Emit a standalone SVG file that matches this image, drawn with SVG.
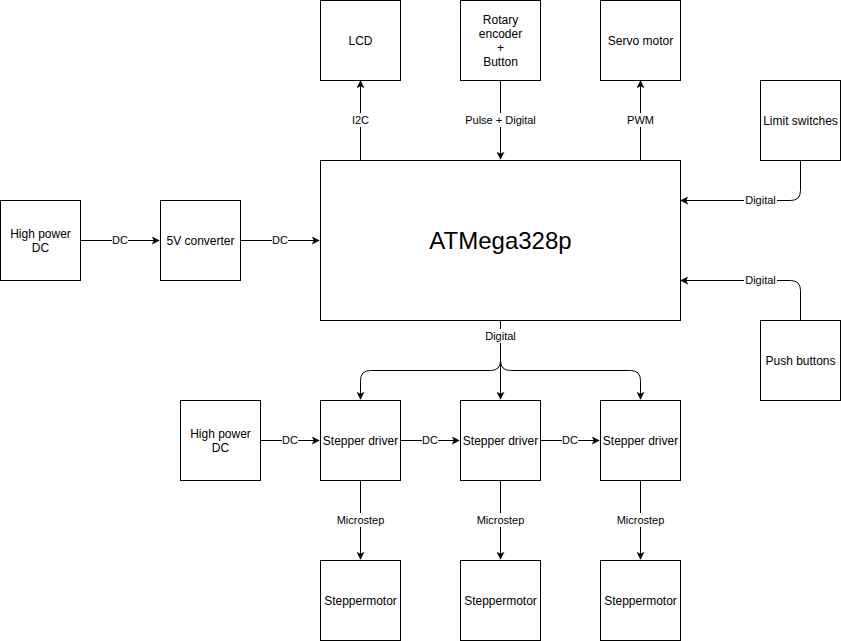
<svg xmlns="http://www.w3.org/2000/svg" width="841" height="641" viewBox="0 0 841 641">
<style>
.box{fill:#fff;stroke:#000;stroke-width:1}
.t{font-family:"Liberation Sans",Arial,sans-serif;font-size:12px;fill:#000;text-anchor:middle;dominant-baseline:central}
.big{font-size:24px}
.lbl{font-family:"Liberation Sans",Arial,sans-serif;font-size:11px;fill:#000;text-anchor:middle;dominant-baseline:central}
.lb{fill:#fff}
.e{fill:none;stroke:#000;stroke-width:1}
</style>
<defs>
<marker id="a" viewBox="0 0 10 10" refX="9" refY="5" markerWidth="8" markerHeight="8" markerUnits="userSpaceOnUse" orient="auto">
<path d="M0,0 L10,5 L0,10 L2.5,5 z" fill="#000"/>
</marker>
</defs>
<rect width="841" height="641" fill="#fff"/>
<g id="connectors">
<path class="e" d="M360.5,160 L360.5,81" marker-end="url(#a)"/>
<path class="e" d="M500.5,80 L500.5,159" marker-end="url(#a)"/>
<path class="e" d="M640.5,160 L640.5,81" marker-end="url(#a)"/>
<path class="e" d="M800.5,160 L800.5,190.5 Q800.5,200.5 790.5,200.5 L681,200.5" marker-end="url(#a)"/>
<path class="e" d="M800.5,320 L800.5,290.5 Q800.5,280.5 790.5,280.5 L681,280.5" marker-end="url(#a)"/>
<path class="e" d="M80,240.5 L159,240.5" marker-end="url(#a)"/>
<path class="e" d="M240,240.5 L319,240.5" marker-end="url(#a)"/>
<path class="e" d="M500.5,320 L500.5,399" marker-end="url(#a)"/>
<path class="e" d="M500.5,320 L500.5,360.5 Q500.5,370.5 490.5,370.5 L370.5,370.5 Q360.5,370.5 360.5,380.5 L360.5,399" marker-end="url(#a)"/>
<path class="e" d="M500.5,320 L500.5,360.5 Q500.5,370.5 510.5,370.5 L630.5,370.5 Q640.5,370.5 640.5,380.5 L640.5,399" marker-end="url(#a)"/>
<path class="e" d="M260,440.5 L319,440.5" marker-end="url(#a)"/>
<path class="e" d="M400,440.5 L459,440.5" marker-end="url(#a)"/>
<path class="e" d="M540,440.5 L599,440.5" marker-end="url(#a)"/>
<path class="e" d="M360.5,480 L360.5,559" marker-end="url(#a)"/>
<path class="e" d="M500.5,480 L500.5,559" marker-end="url(#a)"/>
<path class="e" d="M640.5,480 L640.5,559" marker-end="url(#a)"/>
<rect class="lb" x="351" y="113" width="19" height="14"/><text class="lbl" x="360.5" y="120">I2C</text>
<rect class="lb" x="465" y="113" width="71" height="14"/><text class="lbl" x="500.5" y="120">Pulse + Digital</text>
<rect class="lb" x="626" y="113" width="29" height="14"/><text class="lbl" x="640.5" y="120">PWM</text>
<rect class="lb" x="744" y="193" width="33" height="14"/><text class="lbl" x="760.5" y="200">Digital</text>
<rect class="lb" x="744" y="273" width="33" height="14"/><text class="lbl" x="760.5" y="280">Digital</text>
<rect class="lb" x="112" y="233" width="16" height="14"/><text class="lbl" x="120" y="240">DC</text>
<rect class="lb" x="272" y="233" width="16" height="14"/><text class="lbl" x="280" y="240">DC</text>
<rect class="lb" x="484" y="329" width="33" height="14"/><text class="lbl" x="500.5" y="336">Digital</text>
<rect class="lb" x="282" y="433" width="16" height="14"/><text class="lbl" x="290" y="440">DC</text>
<rect class="lb" x="422" y="433" width="16" height="14"/><text class="lbl" x="430" y="440">DC</text>
<rect class="lb" x="562" y="433" width="16" height="14"/><text class="lbl" x="570" y="440">DC</text>
<rect class="lb" x="337" y="513" width="47" height="14"/><text class="lbl" x="360.5" y="520">Microstep</text>
<rect class="lb" x="477" y="513" width="47" height="14"/><text class="lbl" x="500.5" y="520">Microstep</text>
<rect class="lb" x="617" y="513" width="47" height="14"/><text class="lbl" x="640.5" y="520">Microstep</text>
</g>
<g id="lcd"><rect class="box" x="320.5" y="0.5" width="80" height="80"/><text class="t" x="360.5" y="40.5">LCD</text></g>
<g id="rotary"><rect class="box" x="460.5" y="0.5" width="80" height="80"/><text class="t" x="500.5" y="19.5">Rotary</text><text class="t" x="500.5" y="33.5">encoder</text><text class="t" x="500.5" y="47.5">+</text><text class="t" x="500.5" y="61.5">Button</text></g>
<g id="servo"><rect class="box" x="600.5" y="0.5" width="80" height="80"/><text class="t" x="640.5" y="40.5">Servo motor</text></g>
<g id="limit"><rect class="box" x="760.5" y="80.5" width="80" height="80"/><text class="t" x="800.5" y="120.5">Limit switches</text></g>
<g id="atmega"><rect class="box" x="320.5" y="160.5" width="360" height="160"/><text class="t big" x="500.5" y="240.5">ATMega328p</text></g>
<g id="push"><rect class="box" x="760.5" y="320.5" width="80" height="80"/><text class="t" x="800.5" y="360.5">Push buttons</text></g>
<g id="hpdc1"><rect class="box" x="0.5" y="200.5" width="80" height="80"/><text class="t" x="40.5" y="233.5">High power</text><text class="t" x="40.5" y="247.5">DC</text></g>
<g id="conv"><rect class="box" x="160.5" y="200.5" width="80" height="80"/><text class="t" x="200.5" y="240.5">5V converter</text></g>
<g id="hpdc2"><rect class="box" x="180.5" y="400.5" width="80" height="80"/><text class="t" x="220.5" y="433.5">High power</text><text class="t" x="220.5" y="447.5">DC</text></g>
<g id="drv1"><rect class="box" x="320.5" y="400.5" width="80" height="80"/><text class="t" x="360.5" y="440.5">Stepper driver</text></g>
<g id="drv2"><rect class="box" x="460.5" y="400.5" width="80" height="80"/><text class="t" x="500.5" y="440.5">Stepper driver</text></g>
<g id="drv3"><rect class="box" x="600.5" y="400.5" width="80" height="80"/><text class="t" x="640.5" y="440.5">Stepper driver</text></g>
<g id="mot1"><rect class="box" x="320.5" y="560.5" width="80" height="80"/><text class="t" x="360.5" y="600.5">Steppermotor</text></g>
<g id="mot2"><rect class="box" x="460.5" y="560.5" width="80" height="80"/><text class="t" x="500.5" y="600.5">Steppermotor</text></g>
<g id="mot3"><rect class="box" x="600.5" y="560.5" width="80" height="80"/><text class="t" x="640.5" y="600.5">Steppermotor</text></g>
</svg>
